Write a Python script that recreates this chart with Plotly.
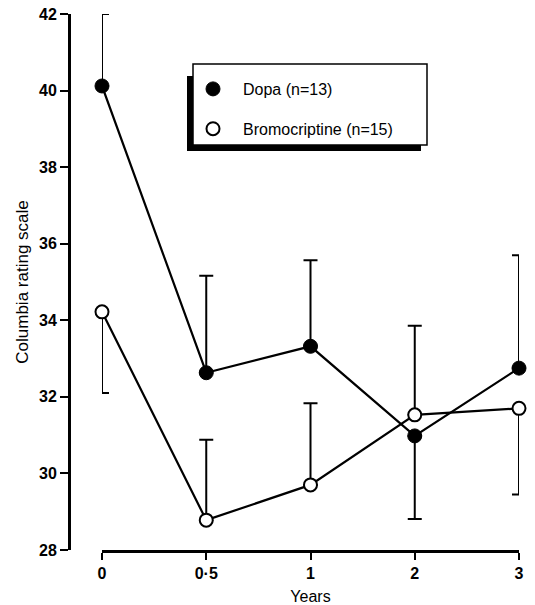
import plotly.graph_objects as go

# ---- data ----
years_labels = ["0", "0·5", "1", "2", "3"]
x_pos = [0, 1, 2, 3, 4]  # equally spaced categories

dopa_mean = [40.12, 32.63, 33.32, 30.98, 32.75]
dopa_err_up = [1.88, 2.53, 2.25, 0.0, 2.95]
dopa_err_down = [0.0, 0.0, 0.0, 2.17, 0.0]

bromo_mean = [34.22, 28.78, 29.70, 31.53, 31.70]
bromo_err_up = [0.0, 2.10, 2.13, 2.33, 0.0]
bromo_err_down = [2.12, 0.0, 0.0, 0.0, 2.25]

y_ticks = [28, 30, 32, 34, 36, 38, 40, 42]

FONT = "Liberation Sans, Arial, Helvetica, sans-serif"

W, H = 535, 605
ML, MR, MT, MB = 69, 16, 14, 55
PW, PH = W - ML - MR, H - MT - MB


def px_x(px):
    return (px - ML) / PW


def px_y(py):
    return (H - MB - py) / PH


fig = go.Figure()

# connecting lines (no legend)
fig.add_trace(go.Scatter(x=x_pos, y=dopa_mean, mode="lines",
                         line=dict(color="black", width=2.2),
                         showlegend=False, hoverinfo="skip", cliponaxis=False))
fig.add_trace(go.Scatter(x=x_pos, y=bromo_mean, mode="lines",
                         line=dict(color="black", width=2.2),
                         showlegend=False, hoverinfo="skip", cliponaxis=False))

# markers with one-sided error bars
fig.add_trace(go.Scatter(
    x=x_pos, y=dopa_mean, mode="markers", name="Dopa (n=13)",
    legendgroup="a",
    marker=dict(symbol="circle", size=14, color="black",
                line=dict(color="black", width=1)),
    error_y=dict(type="data", symmetric=False, array=dopa_err_up,
                 arrayminus=dopa_err_down, color="black", thickness=2, width=7),
    cliponaxis=False))
fig.add_trace(go.Scatter(
    x=x_pos, y=bromo_mean, mode="markers", name="Bromocriptine (n=15)",
    legendgroup="b",
    marker=dict(symbol="circle", size=13, color="white",
                line=dict(color="black", width=2)),
    error_y=dict(type="data", symmetric=False, array=bromo_err_up,
                 arrayminus=bromo_err_down, color="black", thickness=2, width=7),
    cliponaxis=False))

shapes = [
    # legend shadow
    dict(type="rect", xref="paper", yref="paper", layer="below",
         x0=px_x(187), x1=px_x(421), y0=px_y(151), y1=px_y(76),
         fillcolor="black", line=dict(width=0)),
    # legend box
    dict(type="rect", xref="paper", yref="paper", layer="below",
         x0=px_x(193), x1=px_x(427), y0=px_y(145), y1=px_y(64),
         fillcolor="white", line=dict(color="black", width=1.5)),
]

fig.update_layout(
    width=W, height=H,
    margin=dict(l=ML, r=MR, t=MT, b=MB, autoexpand=False),
    paper_bgcolor="white", plot_bgcolor="white",
    font=dict(family=FONT, color="black", size=16),
    showlegend=True,
    legend=dict(x=px_x(183), y=px_y(72), xanchor="left", yanchor="top",
                bgcolor="rgba(0,0,0,0)", borderwidth=0,
                font=dict(family=FONT, size=16, color="black"),
                itemwidth=50, tracegroupgap=16, itemclick=False),
    shapes=shapes,
    xaxis=dict(domain=[px_x(102), 1], range=[0, 4],
               tickmode="array", tickvals=x_pos, ticktext=years_labels,
               showline=True, linewidth=3, linecolor="black",
               ticks="outside", ticklen=7, tickwidth=2, tickcolor="black",
               tickfont=dict(family=FONT, size=16, weight="bold"),
               ticklabeloverflow="allow",
               showgrid=False, zeroline=False, automargin=False,
               title=dict(text="Years", font=dict(family=FONT, size=16),
                          standoff=12),
               anchor="y"),
    yaxis=dict(range=[28, 42], tickmode="array", tickvals=y_ticks,
               anchor="free", position=0,
               showline=True, linewidth=3, linecolor="black",
               ticks="outside", ticklen=8, tickwidth=2, tickcolor="black",
               tickfont=dict(family=FONT, size=16, weight="bold"),
               ticklabeloverflow="allow",
               showgrid=False, zeroline=False, automargin=False,
               title=dict(text="Columbia rating scale",
                          font=dict(family=FONT, size=17), standoff=5)),
)

# remove the browser's default 8px page margin so the 535x605 figure
# fills the window exactly
fig.write_html(
    "out.html",
    config={"displayModeBar": False},
    post_script="document.body.style.margin='0';"
                "document.body.style.overflow='hidden';",
)
